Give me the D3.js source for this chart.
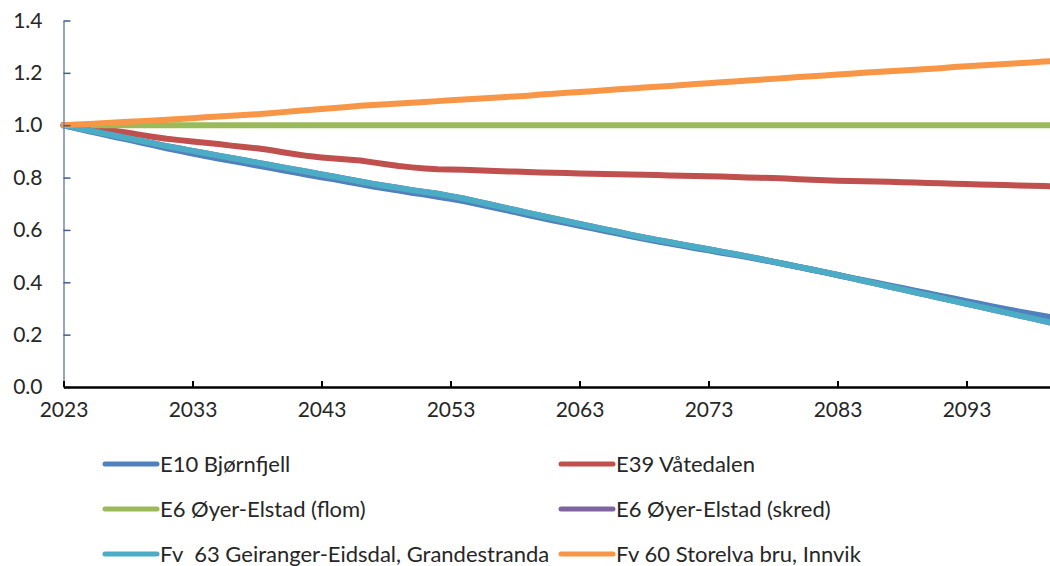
<!DOCTYPE html>
<html>
<head>
<meta charset="utf-8">
<script src="https://cdn.jsdelivr.net/npm/d3@7"></script>
<style>
  html, body { margin: 0; padding: 0; background: #fff; }
  svg { display: block; }
  text { font-family: Lato, "Open Sans", sans-serif; fill: #262626; white-space: pre; }
</style>
</head>
<body>
<svg id="chart" width="1050" height="566"></svg>
<script>
// ---- DATA ----
const years = d3.range(2023, 2101); // 2023..2100
const xTickYears = [2023, 2033, 2043, 2053, 2063, 2073, 2083, 2093];
const yTicks = [0, 0.2, 0.4, 0.6, 0.8, 1.0, 1.2, 1.4];

const seriesNames = [
  "E10 Bjørnfjell",
  "E39 Våtedalen",
  "E6 Øyer-Elstad (flom)",
  "E6 Øyer-Elstad (skred)",
  "Fv  63 Geiranger-Eidsdal, Grandestranda",
  "Fv 60 Storelva bru, Innvik"
];
const seriesColors = ["#4F81BD", "#C0504D", "#9BBB59", "#8064A2", "#4BACC6", "#F79646"];

const e10 = [1.000,0.988,0.977,0.966,0.955,0.945,0.934,0.923,0.912,0.902,
  0.892,0.882,0.873,0.864,0.855,0.846,0.837,0.828,0.819,0.810,
  0.801,0.793,0.784,0.775,0.766,0.758,0.750,0.742,0.735,0.727,
  0.719,0.710,0.700,0.689,0.679,0.668,0.657,0.646,0.636,0.626,
  0.616,0.606,0.596,0.586,0.576,0.566,0.557,0.548,0.539,0.530,
  0.522,0.513,0.505,0.496,0.487,0.478,0.468,0.458,0.448,0.438,
  0.428,0.418,0.408,0.398,0.388,0.378,0.368,0.358,0.348,0.338,
  0.328,0.318,0.308,0.298,0.289,0.280,0.271,0.262];

const e39 = [1.000,0.995,0.990,0.984,0.978,0.971,0.963,0.955,0.948,0.943,
  0.938,0.933,0.928,0.922,0.917,0.912,0.905,0.897,0.889,0.882,
  0.877,0.873,0.869,0.865,0.858,0.851,0.844,0.839,0.835,0.832,
  0.831,0.830,0.828,0.826,0.824,0.823,0.821,0.819,0.818,0.817,
  0.816,0.815,0.814,0.813,0.812,0.811,0.810,0.808,0.807,0.806,
  0.805,0.804,0.802,0.800,0.799,0.798,0.796,0.794,0.792,0.790,
  0.788,0.787,0.786,0.785,0.784,0.782,0.781,0.779,0.778,0.776,
  0.775,0.774,0.773,0.772,0.770,0.769,0.768,0.766];

const e6Flom = [1,1,1,1,1,1,1,1,1,1, 1,1,1,1,1,1,1,1,1,1,
  1,1,1,1,1,1,1,1,1,1, 1,1,1,1,1,1,1,1,1,1,
  1,1,1,1,1,1,1,1,1,1, 1,1,1,1,1,1,1,1,1,1,
  1,1,1,1,1,1,1,1,1,1, 1,1,1,1,1,1,1,1];

const e6Skred = [1.000,0.990,0.980,0.970,0.960,0.950,0.940,0.930,0.920,0.911,
  0.902,0.893,0.884,0.875,0.866,0.857,0.848,0.839,0.830,0.821,
  0.812,0.803,0.794,0.785,0.776,0.768,0.760,0.752,0.745,0.738,
  0.729,0.720,0.709,0.698,0.687,0.676,0.665,0.654,0.644,0.633,
  0.623,0.612,0.602,0.592,0.581,0.571,0.562,0.553,0.544,0.535,
  0.526,0.517,0.508,0.499,0.489,0.479,0.469,0.459,0.449,0.439,
  0.428,0.417,0.406,0.395,0.384,0.373,0.362,0.351,0.340,0.329,
  0.318,0.307,0.296,0.285,0.274,0.263,0.252,0.241];

const fv63 = [1.000,0.990,0.980,0.970,0.960,0.950,0.940,0.930,0.920,0.911,
  0.902,0.893,0.884,0.875,0.866,0.857,0.848,0.839,0.830,0.821,
  0.812,0.803,0.794,0.785,0.776,0.768,0.760,0.752,0.745,0.738,
  0.729,0.720,0.709,0.698,0.687,0.676,0.665,0.654,0.644,0.633,
  0.623,0.612,0.602,0.592,0.581,0.571,0.562,0.553,0.544,0.535,
  0.526,0.517,0.508,0.499,0.489,0.479,0.469,0.459,0.449,0.439,
  0.428,0.417,0.406,0.395,0.384,0.373,0.362,0.351,0.340,0.329,
  0.318,0.307,0.296,0.285,0.274,0.263,0.252,0.241];

const fv60 = [1.000,1.003,1.005,1.008,1.010,1.013,1.015,1.018,1.021,1.024,
  1.027,1.030,1.033,1.036,1.039,1.042,1.046,1.050,1.054,1.058,
  1.062,1.066,1.070,1.074,1.077,1.080,1.083,1.086,1.089,1.092,
  1.095,1.098,1.101,1.104,1.107,1.110,1.113,1.117,1.120,1.124,
  1.127,1.130,1.134,1.137,1.140,1.144,1.147,1.150,1.154,1.157,
  1.160,1.164,1.167,1.171,1.174,1.177,1.180,1.184,1.187,1.190,
  1.194,1.197,1.200,1.203,1.206,1.209,1.212,1.215,1.218,1.222,
  1.225,1.228,1.231,1.234,1.237,1.240,1.243,1.246];

const seriesValues = [e10, e39, e6Flom, e6Skred, fv63, fv60];

// ---- LAYOUT ----
const svg = d3.select("#chart");
const x0 = 63.5, yTop = 20.5, yBottom = 387;
const pxPerYear = 12.9;

const x = d3.scaleLinear()
  .domain([2023, 2100])
  .range([x0, x0 + 77 * pxPerYear]);
const y = d3.scaleLinear()
  .domain([0, 1.4])
  .range([yBottom, yTop]);

// lines
const line = d3.line()
  .x((d, i) => x(years[i]))
  .y(d => y(d));

const gLines = svg.append("g");
seriesValues.forEach((vals, k) => {
  gLines.append("path")
    .datum(vals)
    .attr("d", line)
    .attr("fill", "none")
    .attr("stroke", seriesColors[k])
    .attr("stroke-width", 6)
    .attr("stroke-linejoin", "round")
    .attr("stroke-linecap", "round");
});

// y axis
const yAxis = d3.axisLeft(y)
  .tickValues(yTicks)
  .tickFormat(d3.format(".1f"))
  .tickSizeInner(-7)
  .tickSizeOuter(0)
  .tickPadding(21);
const gy = svg.append("g").attr("transform", `translate(${x0},0)`).call(yAxis);
gy.select(".domain").attr("stroke", "#7189B0").attr("stroke-width", 1.5);
gy.selectAll(".tick line").attr("stroke", "#3F5F8F").attr("stroke-width", 1.5);
gy.selectAll(".tick text").attr("font-size", 21).attr("font-family", "Lato, sans-serif").attr("fill", "#262626");

// x axis
const xAxis = d3.axisBottom(x)
  .tickValues(xTickYears)
  .tickFormat(d3.format("d"))
  .tickSizeInner(-6)
  .tickSizeOuter(0)
  .tickPadding(15);
const gx = svg.append("g").attr("transform", `translate(0,${yBottom})`).call(xAxis);
gx.select(".domain").attr("stroke", "#000").attr("stroke-width", 2.5);
gx.selectAll(".tick line").attr("stroke", "#000").attr("stroke-width", 2);
gx.selectAll(".tick text").attr("font-size", 21).attr("font-family", "Lato, sans-serif").attr("fill", "#262626");

// legend
const legendCols = [103, 559];
const legendRows = [464, 509, 554];
const legend = svg.append("g");
seriesNames.forEach((name, k) => {
  const cx = legendCols[k % 2];
  const cy = legendRows[Math.floor(k / 2)];
  legend.append("line")
    .attr("x1", cx + 2).attr("x2", cx + 54)
    .attr("y1", cy).attr("y2", cy)
    .attr("stroke", seriesColors[k])
    .attr("stroke-width", 5)
    .attr("stroke-linecap", "round");
  legend.append("text")
    .attr("x", cx + 57)
    .attr("y", cy)
    .attr("dy", "0.36em")
    .attr("font-size", 22)
    .attr("xml:space", "preserve")
    .text(name);
});
</script>
</body>
</html>
